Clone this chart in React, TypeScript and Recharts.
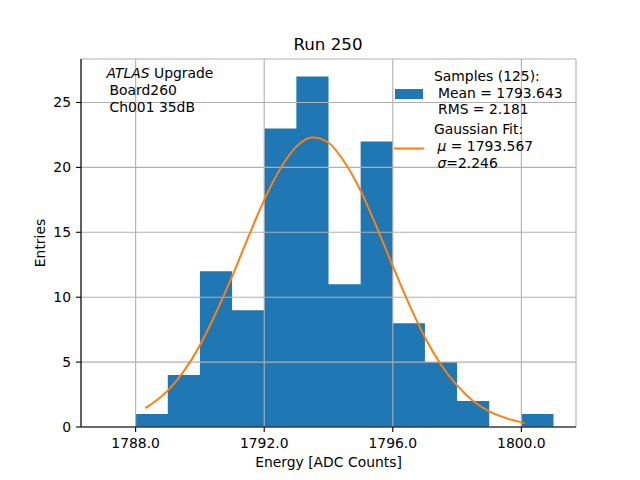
// @ts-nocheck
import { ComposedChart, Area, Line, XAxis, YAxis, CartesianGrid } from 'recharts';

// histogram: bin edges (1 ADC count wide) and entries per bin
const binEdges = [1788, 1789, 1790, 1791, 1792, 1793, 1794, 1795, 1796, 1797, 1798, 1799, 1800, 1801];
const binCounts = [1, 4, 12, 9, 23, 27, 11, 22, 8, 5, 2, 0, 1];

// gaussian fit curve
const fitX = [1788.3, 1789, 1789.5, 1790, 1790.5, 1791, 1791.5, 1792, 1792.5, 1793, 1793.5, 1794, 1794.5, 1795, 1795.5, 1796, 1796.5, 1797, 1797.5, 1798, 1798.5, 1799, 1799.5, 1800.1];
const fitY = [1.45, 2.8, 4.3, 6.3, 8.8, 11.6, 14.6, 17.5, 19.9, 21.6, 22.3, 21.9, 20.4, 18.2, 15.4, 12.4, 9.5, 6.9, 4.8, 3.2, 2.0, 1.2, 0.7, 0.3];

const xTicks = [1788, 1792, 1796, 1800];
const yTicks = [0, 5, 10, 15, 20, 25];

const title = 'Run 250';
const xLabel = 'Energy [ADC Counts]';
const yLabel = 'Entries';
const infoLines = ['Board260', 'Ch001 35dB'];
const sampleLines = ['Samples (125):', 'Mean = 1793.643', 'RMS = 2.181'];
const fitLines = ['Gaussian Fit:', '= 1793.567', '=2.246'];

const BLUE = '#1f77b4';
const ORANGE = '#ff7f0e';
const FONT = 'DejaVu Sans, sans-serif';
const FS = 13.9;

const histData = binEdges.map((x, i) => ({ x, count: binCounts[Math.min(i, binCounts.length - 1)] }));
const fitData = fitX.map((x, i) => ({ x, fit: fitY[i] }));

const tickStyle = { fontSize: FS, fontFamily: FONT, fill: '#000' };
const frame = { stroke: '#000', strokeWidth: 1.1 };

export default function App() {
  return (
    <div style={{ position: 'absolute', left: 0, top: 0, width: 640, height: 480, background: '#fff' }}>
      <ComposedChart
        width={640}
        height={480}
        margin={{ top: 59, right: 64, bottom: 23, left: 31 }}
      >
        <XAxis
          dataKey="x"
          type="number"
          domain={[1786.3, 1801.7]}
          ticks={xTicks}
          tickFormatter={(v) => v.toFixed(1)}
          allowDataOverflow
          height={30}
          tickSize={5}
          tickMargin={6}
          tick={tickStyle}
          axisLine={frame}
          tickLine={frame}
        />
        <XAxis
          xAxisId="top"
          orientation="top"
          type="number"
          domain={[1786.3, 1801.7]}
          height={0}
          tick={false}
          tickLine={false}
          axisLine={frame}
        />
        <YAxis
          type="number"
          domain={[0, 28.35]}
          ticks={yTicks}
          allowDataOverflow
          width={50}
          tickSize={5}
          tickMargin={5}
          tick={tickStyle}
          axisLine={frame}
          tickLine={frame}
        />
        <YAxis
          yAxisId="right"
          orientation="right"
          type="number"
          domain={[0, 28.35]}
          width={0}
          tick={false}
          tickLine={false}
          axisLine={frame}
        />
        <Area
          data={histData}
          dataKey="count"
          type="stepAfter"
          fill={BLUE}
          fillOpacity={1}
          stroke="none"
          isAnimationActive={false}
          dot={false}
          activeDot={false}
        />
        <CartesianGrid stroke="#b0b0b0" strokeWidth={1.1} zIndex={150} />
        <Line
          data={fitData}
          dataKey="fit"
          type="monotone"
          stroke={ORANGE}
          strokeWidth={2}
          dot={false}
          activeDot={false}
          isAnimationActive={false}
        />
      </ComposedChart>
      <svg
        width={640}
        height={480}
        style={{ position: 'absolute', left: 0, top: 0, pointerEvents: 'none' }}
        fontFamily={FONT}
      >
        <text x={328} y={50} textAnchor="middle" fontSize={16.7}>{title}</text>
        <text x={328.5} y={467} textAnchor="middle" fontSize={FS}>{xLabel}</text>
        <text x={45} y={243} textAnchor="middle" fontSize={FS} transform="rotate(-90 45 243)">{yLabel}</text>

        <text x={106.5} y={78} fontSize={FS}>
          <tspan fontStyle="italic">ATLAS</tspan> Upgrade
        </text>
        {infoLines.map((t, i) => (
          <text key={t} x={109.5} y={95 + i * 17} fontSize={FS}>{t}</text>
        ))}

        <rect x={395} y={89} width={28} height={10} fill={BLUE} />
        <text x={434} y={81} fontSize={FS}>{sampleLines[0]}</text>
        <text x={438} y={97.5} fontSize={FS}>{sampleLines[1]}</text>
        <text x={438} y={114} fontSize={FS}>{sampleLines[2]}</text>

        <line x1={394} x2={424} y1={148.5} y2={148.5} stroke={ORANGE} strokeWidth={2} />
        <text x={434} y={134} fontSize={FS}>{fitLines[0]}</text>
        <text x={437.5} y={151} fontSize={FS}>
          <tspan fontStyle="italic">μ</tspan> {fitLines[1]}
        </text>
        <text x={437.5} y={168} fontSize={FS}>
          <tspan fontStyle="italic">σ</tspan>{fitLines[2]}
        </text>
      </svg>
    </div>
  );
}
